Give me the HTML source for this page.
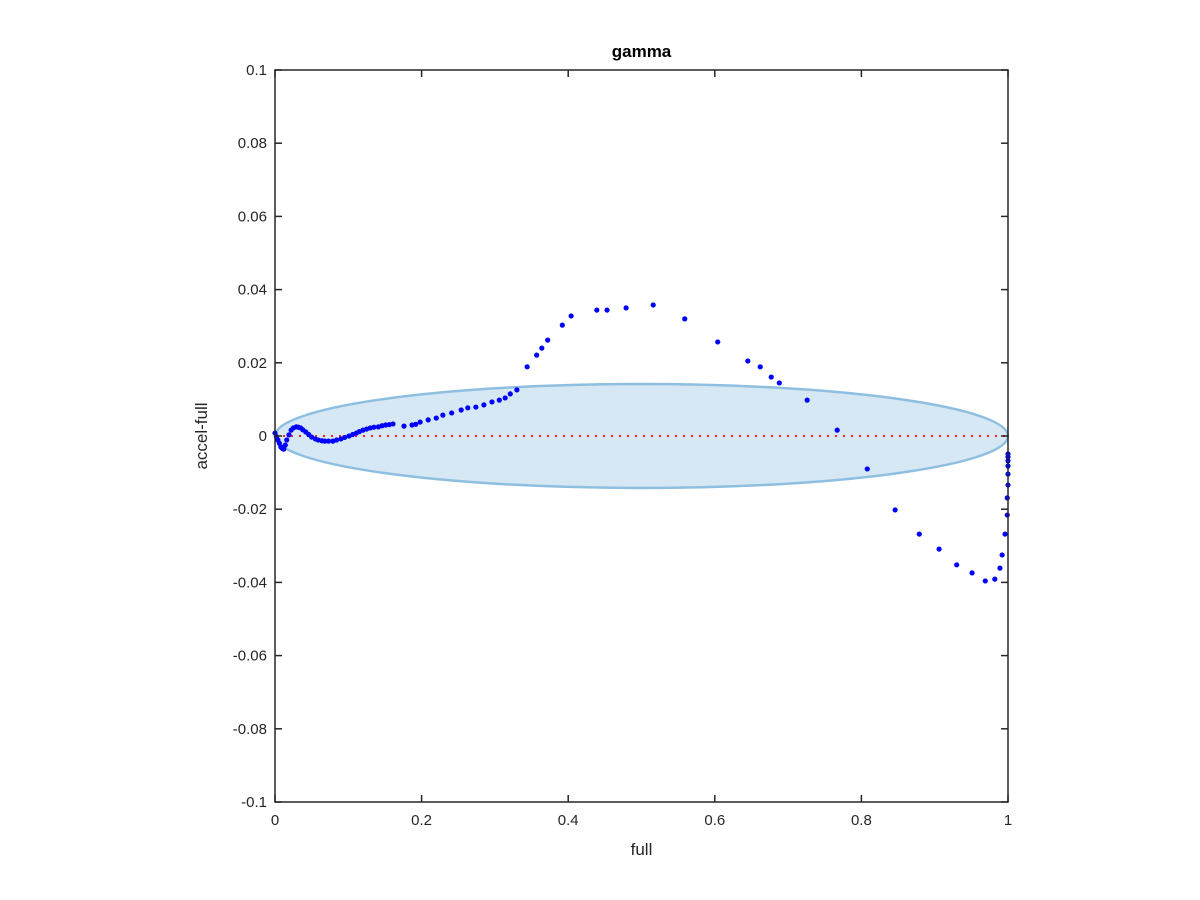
<!DOCTYPE html>
<html><head><meta charset="utf-8"><style>body{margin:0;background:#fff}svg{display:block;font-family:"Liberation Sans",sans-serif}</style></head>
<body>
<svg id="chart" width="1200" height="900"></svg>
<script>
const xTicks=[0,0.2,0.4,0.6,0.8,1];
const xTickLabels=["0","0.2","0.4","0.6","0.8","1"];
const yTicks=[0.1,0.08,0.06,0.04,0.02,0,-0.02,-0.04,-0.06,-0.08,-0.1];
const yTickLabels=["0.1","0.08","0.06","0.04","0.02","0","-0.02","-0.04","-0.06","-0.08","-0.1"];
const ptsX=[0,.002,.004,.006,.008,.010,.012,.014,.016,.019,.022,.025,.029,.032,.035,.038,.042,.046,.050,.055,.059,.064,.068,.073,.079,.084,.090,.095,.101,.106,.111,.115,.120,.125,.130,.135,.141,.146,.151,.156,.161,.176,.187,.192,.198,.209,.220,.229,.241,.254,.263,.274,.285,.296,.306,.314,.321,.330,.344,.357,.364,.372,.392,.404,.439,.453,.479,.516,.559,.604,.645,.662,.677,.688,.726,.767,.808,.846,.879,.906,.930,.951,.969,.982,.989,.992,.996,.999,.999,1,1,1,1,1,1];
const ptsY=[.0008,-.0002,-.0011,-.0020,-.0030,-.0034,-.0036,-.0025,-.0011,.0003,.0016,.0022,.0025,.0024,.0022,.0017,.0011,.0004,-.0003,-.0008,-.0011,-.0013,-.0014,-.0014,-.0014,-.0011,-.0008,-.0004,0,.0004,.0008,.0012,.0016,.0019,.0022,.0024,.0025,.0028,.0030,.0031,.0033,.0027,.0030,.0032,.0038,.0044,.0049,.0057,.0063,.0071,.0077,.0079,.0085,.0093,.0098,.0104,.0115,.0126,.0189,.0221,.0240,.0262,.0303,.0328,.0344,.0344,.0350,.0358,.0320,.0257,.0205,.0189,.0161,.0145,.0098,.0016,-.0090,-.0202,-.0268,-.0309,-.0352,-.0374,-.0396,-.0391,-.0361,-.0325,-.0268,-.0216,-.0169,-.0134,-.0104,-.0082,-.0068,-.0057,-.0049];
const ellipseCx=0.5, ellipseRx=0.5, ellipseRy=0.0142;
const L=275,R=1008,T=70,B=802;
const sx=v=>L+(v-0)/(1-0)*(R-L);
const sy=v=>T+(0.1-v)/(0.2)*(B-T);
const svg=document.getElementById('chart');
const NS="http://www.w3.org/2000/svg";
function mk(tag,attrs,parent){const e=document.createElementNS(NS,tag);for(const k in attrs)e.setAttribute(k,attrs[k]);(parent||svg).appendChild(e);return e;}
const bg=mk('rect',{x:L,y:T,width:R-L,height:B-T,fill:'#fff'});


const el=mk('ellipse',{cx:sx(ellipseCx),cy:sy(0),rx:sx(ellipseRx)-sx(0),ry:sy(0)-sy(ellipseRy),fill:'#d6e8f4',stroke:'#8fbfe0','stroke-width':2.5});


const zl=mk('line',{x1:sx(0),x2:sx(1),y1:sy(0),y2:sy(0),stroke:'#ff2020','stroke-width':2,'stroke-dasharray':'2 6'});


const g=mk('g',{});


ptsX.forEach((x,i)=>{const c=mk('circle',{cx:sx(x),cy:sy(ptsY[i]),r:2.6,fill:'#0000ff'},g);

});
const fr=mk('rect',{x:L,y:T,width:R-L,height:B-T,fill:'none',stroke:'#262626','stroke-width':1.5});


xTicks.forEach((v,i)=>{const x=sx(v);
mk('line',{x1:x,x2:x,y1:B,y2:B-7,stroke:'#262626','stroke-width':1.5});
mk('line',{x1:x,x2:x,y1:T,y2:T+7,stroke:'#262626','stroke-width':1.5});
const t=mk('text',{x:x,y:B+23,'text-anchor':'middle','font-size':15,fill:'#262626'});t.textContent=xTickLabels[i];

});
yTicks.forEach((v,i)=>{const y=sy(v);
mk('line',{x1:L,x2:L+7,y1:y,y2:y,stroke:'#262626','stroke-width':1.5});
mk('line',{x1:R,x2:R-7,y1:y,y2:y,stroke:'#262626','stroke-width':1.5});
const t=mk('text',{x:L-8,y:y+5,'text-anchor':'end','font-size':15,fill:'#262626'});t.textContent=yTickLabels[i];

});
const ti=mk('text',{x:(L+R)/2,y:57,'text-anchor':'middle','font-size':17,'font-weight':'bold',fill:'#000'});ti.textContent='gamma';


const xl=mk('text',{x:(L+R)/2,y:855,'text-anchor':'middle','font-size':17,fill:'#262626'});xl.textContent='full';


const yl=mk('text',{x:0,y:0,'text-anchor':'middle','font-size':17,fill:'#262626',transform:'translate(207,436) rotate(-90)'});yl.textContent='accel-full';


</script>
</body></html>
